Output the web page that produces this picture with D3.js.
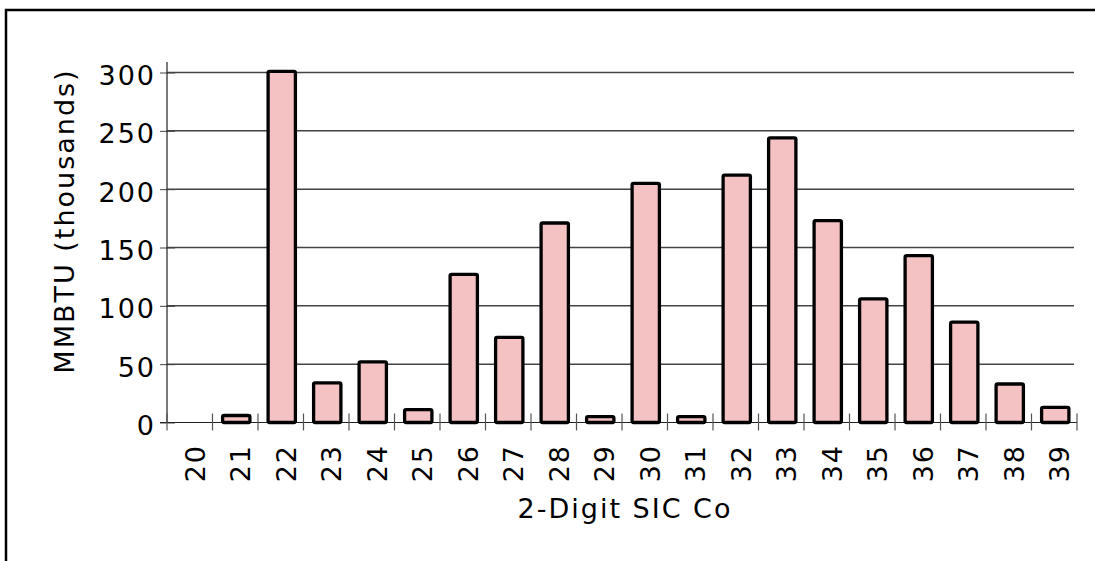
<!DOCTYPE html>
<html>
<head>
<meta charset="utf-8">
<script src="https://cdn.jsdelivr.net/npm/d3@7"></script>
<style>
  body { margin: 0; background: #fff; }
  #vis { width: 1095px; height: 561px; }
  text { font-family: "DejaVu Sans", Verdana, sans-serif; font-size: 27px; letter-spacing: 2px; fill: #000; }
</style>
</head>
<body>
<div id="vis"></div>
<script>
// data
var categories = ['20', '21', '22', '23', '24', '25', '26', '27', '28', '29',
  '30', '31', '32', '33', '34', '35', '36', '37', '38', '39'];
var values = [0, 6, 301, 34, 52, 11, 127, 73, 171, 5,
  205, 5, 212, 244, 173, 106, 143, 86, 33, 13];
var yTicks = [0, 50, 100, 150, 200, 250, 300];

var width = 1095;
var height = 561;

var svg = d3.select('#vis')
  .append('svg')
  .attr('width', width)
  .attr('height', height);

// outer frame (only top and left are inside the picture)
svg.append('rect')
  .attr('x', 6)
  .attr('y', 10)
  .attr('width', 1300)
  .attr('height', 800)
  .attr('fill', 'none')
  .attr('stroke', '#000')
  .attr('stroke-width', 2.5);

var x_scale = d3.scaleBand()
  .domain(categories)
  .range([167, 1077])
  .paddingInner(0.4)
  .paddingOuter(0.2);

var y_scale = d3.scaleLinear()
  .domain([0, 300])
  .range([422.5, 72.5]);

var gap = (x_scale.step() - x_scale.bandwidth()) / 2;

// gridlines
svg.append('g')
  .selectAll('line')
  .data(yTicks.filter(function(d) { return d > 0; }))
  .enter()
  .append('line')
  .attr('x1', 167)
  .attr('x2', 1074)
  .attr('y1', function(d) { return y_scale(d); })
  .attr('y2', function(d) { return y_scale(d); })
  .attr('stroke', '#444')
  .attr('stroke-width', 1.5);

// y axis
var y_axis = d3.axisLeft(y_scale)
  .tickValues(yTicks)
  .tickSize(7)
  .tickPadding(6);

var yg = svg.append('g')
  .attr('transform', 'translate(167,0)')
  .call(y_axis);
yg.select('.domain').remove();
yg.selectAll('.tick line')
  .attr('x1', 8)
  .attr('x2', -7)
  .attr('stroke', '#444');
yg.selectAll('.tick text')
  .attr('x', -11)
  .attr('dy', '0.45em')
  .attr('font-family', null)
  .attr('font-size', null);

svg.append('line')
  .attr('x1', 167).attr('x2', 167)
  .attr('y1', 62).attr('y2', y_scale(0))
  .attr('stroke', '#222')
  .attr('stroke-width', 1.2);

// x axis baseline and ticks on band boundaries
svg.append('line')
  .attr('x1', 160).attr('x2', 1077)
  .attr('y1', y_scale(0)).attr('y2', y_scale(0))
  .attr('stroke', '#222')
  .attr('stroke-width', 1.2);

var boundaries = categories.map(function(c) { return x_scale(c) - gap; });
boundaries.push(x_scale(categories[categories.length - 1]) + x_scale.bandwidth() + gap);

svg.append('g')
  .selectAll('line')
  .data(boundaries)
  .enter()
  .append('line')
  .attr('x1', function(d) { return d; })
  .attr('x2', function(d) { return d; })
  .attr('y1', y_scale(0) - 9)
  .attr('y2', y_scale(0) + 8)
  .attr('stroke', '#555')
  .attr('stroke-width', 1.2);

// bars
svg.append('g')
  .selectAll('.bar')
  .data(values.map(function(v, i) { return { cat: categories[i], value: v }; })
    .filter(function(d) { return d.value > 0; }))
  .enter()
  .append('rect')
  .attr('class', 'bar')
  .attr('x', function(d) { return x_scale(d.cat) + 1; })
  .attr('width', x_scale.bandwidth())
  .attr('y', function(d) { return y_scale(d.value); })
  .attr('height', function(d) { return y_scale(0) - y_scale(d.value); })
  .attr('rx', 1.5)
  .attr('fill', '#f4c2c2')
  .attr('stroke', '#000')
  .attr('stroke-width', 3.3)
  .attr('stroke-linejoin', 'round');

// x tick labels, rotated
svg.append('g')
  .selectAll('text')
  .data(categories)
  .enter()
  .append('text')
  .attr('transform', function(d) {
    return 'translate(' + (x_scale(d) + x_scale.bandwidth() / 2) + ',444)rotate(-90)';
  })
  .attr('dy', 15)
  .attr('text-anchor', 'end')
  .text(function(d) { return d; });

// axis titles
svg.append('text')
  .attr('x', 625)
  .attr('y', 518)
  .attr('text-anchor', 'middle')
  .text('2-Digit SIC Co');

svg.append('text')
  .attr('transform', 'translate(74,221)rotate(-90)')
  .attr('text-anchor', 'middle')
  .text('MMBTU (thousands)');
</script>
</body>
</html>
